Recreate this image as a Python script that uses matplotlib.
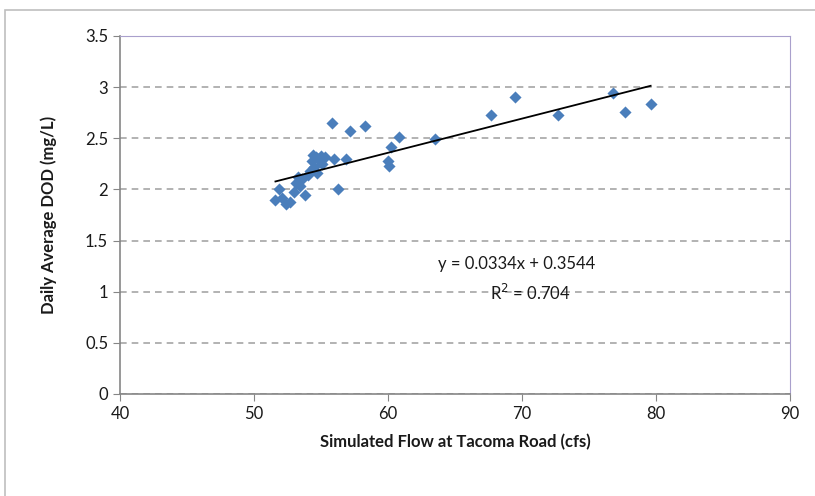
import numpy as np
import matplotlib
matplotlib.use("Agg")
import matplotlib.pyplot as plt
from matplotlib.patches import Rectangle

# simulated flow (cfs) vs daily average DOD (mg/L)
flow = [51.6, 51.9, 52.1, 52.4, 52.7, 53.0, 53.1, 53.3, 53.4, 53.6, 53.8, 54.0,
        54.2, 54.3, 54.4, 54.5, 54.6, 54.7, 54.8, 55.0, 55.1, 55.3, 56.0, 56.3,
        56.9, 55.8, 57.2, 58.3, 60.0, 60.1, 60.2, 60.8, 63.5, 67.7, 69.5, 72.7,
        76.8, 77.7, 79.6]
dod = [1.90, 2.00, 1.92, 1.86, 1.88, 1.97, 2.06, 2.12, 2.03, 2.10, 1.95, 2.14,
       2.18, 2.28, 2.34, 2.22, 2.32, 2.16, 2.30, 2.33, 2.25, 2.32, 2.30, 2.00,
       2.30, 2.65, 2.57, 2.62, 2.28, 2.23, 2.41, 2.51, 2.49, 2.73, 2.90, 2.73,
       2.94, 2.76, 2.84]
slope = 0.0334
intercept = 0.3544
r2 = 0.704

plt.rcParams['font.family'] = ['Lato', 'DejaVu Sans']

fig = plt.figure(figsize=(8.15, 4.96), dpi=100)
ax = fig.add_axes([120 / 815, 1 - 394 / 496, 670 / 815, 358 / 496])

# outer chart frame
fig.patches.append(Rectangle((5 / 815, -0.1), 1.2, 1 - 10 / 496 + 0.1,
                             transform=fig.transFigure, fill=False,
                             edgecolor='#bfbfbf', linewidth=1.2))

ax.scatter(flow, dod, marker='D', s=38, color='#4a7ebb', zorder=3, linewidths=0)

xs = np.array([min(flow), max(flow)])
ax.plot(xs, slope * xs + intercept, color='black', linewidth=1.3, zorder=4)

ax.set_xlim(40, 90)
ax.set_ylim(0, 3.5)
ax.set_xticks(np.arange(40, 91, 10))
ax.set_yticks(np.arange(0, 3.51, 0.5))
ax.set_yticklabels(['0', '0.5', '1', '1.5', '2', '2.5', '3', '3.5'])

ax.yaxis.grid(True, linestyle=(0, (4, 3)), color='#a6a6a6', linewidth=1.2)
ax.set_axisbelow(True)

for side in ['top', 'right']:
    ax.spines[side].set_color('#a9a0cc')
for side in ['left', 'bottom']:
    ax.spines[side].set_color('#868686')
    ax.spines[side].set_linewidth(1.2)

ax.tick_params(axis='both', direction='out', length=5, color='#868686',
               labelsize=12, labelcolor='#1a1a1a')

ax.set_xlabel('Simulated Flow at Tacoma Road (cfs)', fontsize=12,
              fontweight='bold', color='#1a1a1a', labelpad=9)
ax.set_ylabel('Daily Average DOD (mg/L)', fontsize=12, fontweight='bold',
              color='#1a1a1a', labelpad=20)

ax.text(69.6, 1.27, f'y = {slope}x + {intercept}', ha='center', va='center',
        fontsize=12, color='#1a1a1a')
ax.text(70.6, 0.99, f'R$^2$ = {r2}', ha='center', va='center',
        fontsize=12, color='#1a1a1a')

plt.savefig('out.png', dpi=100)
